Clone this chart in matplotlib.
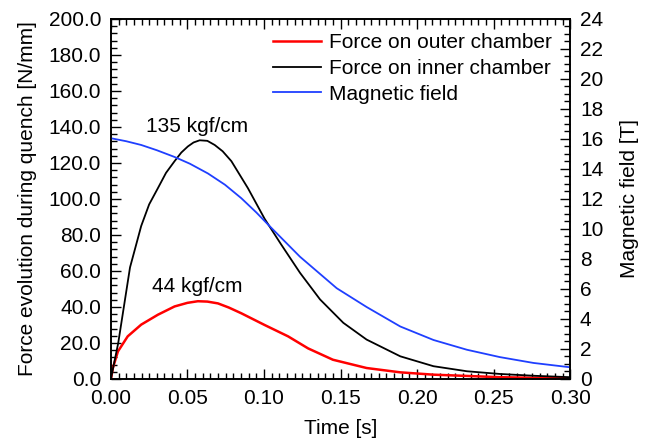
import matplotlib
matplotlib.use("Agg")
import matplotlib.pyplot as plt
from matplotlib.ticker import MultipleLocator, FormatStrFormatter

plt.rcParams['font.family'] = ['Liberation Sans', 'DejaVu Sans']
plt.rcParams['font.size'] = 15

# Force on outer chamber [N/mm]
t_outer = [0, 0.0013, 0.0046, 0.011, 0.0198, 0.0307, 0.0416, 0.050, 0.0568, 0.063, 0.0699, 0.077,
           0.0852, 0.1004, 0.1157, 0.1288, 0.145, 0.167, 0.189, 0.2107, 0.254, 0.3]
f_outer = [0, 6.1, 15.3, 23.7, 30.2, 35.7, 40.3, 42.3, 43.2, 43.0, 42.0, 39.7,
           36.5, 30.0, 23.7, 17.0, 10.7, 6.1, 3.7, 2.4, 1.0, 0.3]

# Force on inner chamber [N/mm]
t_inner = [0, 0.0048, 0.0092, 0.0125, 0.016, 0.0198, 0.025, 0.0307, 0.036, 0.0416, 0.046, 0.0503,
           0.054, 0.058, 0.063, 0.0678, 0.073, 0.0787, 0.0895, 0.1004, 0.111, 0.1235, 0.1366,
           0.1518, 0.167, 0.189, 0.2107, 0.2325, 0.254, 0.276, 0.3]
f_inner = [0, 20.0, 44.0, 62.0, 73.0, 85.0, 97.0, 106.0, 114.5, 121.0, 125.8, 129.2,
           131.4, 132.6, 132.3, 130.0, 126.5, 121.0, 106.0, 89.0, 75.0, 59.0, 44.2,
           31.2, 21.9, 12.6, 7.1, 4.3, 2.8, 1.8, 1.0]

# Magnetic field [T]
t_field = [0, 0.01, 0.0198, 0.03, 0.0416, 0.0516, 0.0634, 0.0745, 0.0852, 0.0950, 0.1026, 0.1235,
           0.1475, 0.167, 0.189, 0.2107, 0.2325, 0.254, 0.276, 0.3]
b_field = [16.05, 15.85, 15.6, 15.25, 14.8, 14.35, 13.7, 12.95, 12.05, 11.1, 10.3, 8.15,
           6.05, 4.8, 3.5, 2.6, 1.95, 1.46, 1.07, 0.78]

labels = ["Force on outer chamber", "Force on inner chamber", "Magnetic field"]

fig = plt.figure(figsize=(6.6, 4.41), dpi=100)
ax = fig.add_axes([0.168, 0.1406, 0.696, 0.8164])
ax2 = ax.twinx()

l1, = ax.plot(t_outer, f_outer, color='#ff0000', lw=1.8)
l2, = ax.plot(t_inner, f_inner, color='black', lw=1.3)
l3, = ax2.plot(t_field, b_field, color='#1f3fff', lw=1.3)

ax.set_xlim(0, 0.30)
ax.set_ylim(0, 200)
ax2.set_ylim(0, 24)

ax.xaxis.set_major_locator(MultipleLocator(0.05))
ax.xaxis.set_minor_locator(MultipleLocator(0.005))
ax.xaxis.set_major_formatter(FormatStrFormatter('%.2f'))
ax.yaxis.set_major_locator(MultipleLocator(20))
ax.yaxis.set_minor_locator(MultipleLocator(4))
ax.yaxis.set_major_formatter(FormatStrFormatter('%.1f'))
ax2.yaxis.set_major_locator(MultipleLocator(2))
ax2.yaxis.set_minor_locator(MultipleLocator(0.5))

ax.tick_params(which='both', direction='in', top=True, right=False, labelsize=15)
ax.tick_params(which='major', length=7, width=1)
ax.tick_params(which='minor', length=4, width=1)
ax.tick_params(axis='x', pad=7)
ax.tick_params(axis='y', pad=7)
ax2.tick_params(which='both', direction='in', labelsize=15, pad=7)
ax2.tick_params(which='major', length=7, width=1)
ax2.tick_params(which='minor', length=4, width=1)
for a in (ax, ax2):
    for s in a.spines.values():
        s.set_linewidth(1.2)

ax.set_xlabel("Time [s]", fontsize=15, labelpad=8)
ax.set_ylabel("Force evolution during quench [N/mm]", fontsize=15, labelpad=8)
ax2.set_ylabel("Magnetic field [T]", fontsize=15, labelpad=12)

ax.text(0.0565, 140.5, "135 kgf/cm", ha='center', va='center', fontsize=15)
ax.text(0.0565, 51.3, "44 kgf/cm", ha='center', va='center', fontsize=15)

ax.legend([l1, l2, l3], labels, loc='upper right', frameon=False, fontsize=15,
          handlelength=2.3, handletextpad=0.35, labelspacing=0.32,
          borderaxespad=0, borderpad=0, bbox_to_anchor=(0.959, 0.96))

fig.savefig("out.png", dpi=100)
